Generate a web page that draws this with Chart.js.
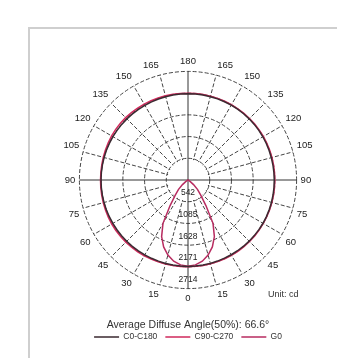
<!DOCTYPE html>
<html>
<head>
<meta charset="utf-8">
<script src="https://cdn.jsdelivr.net/npm/chart.js@4.4.1/dist/chart.umd.min.js"></script>
<style>
    html, body { margin: 0; padding: 0; background: #fff; }
    #wrap { position: relative; width: 337px; height: 358px; overflow: hidden; }
    .frame { position: absolute; left: 28px; top: 27px; right: -5px; bottom: -5px; border-left: 2px solid #cfcfcf; border-top: 2px solid #cfcfcf; }
    canvas { position: absolute; left: 0; top: 0; }
    .unit { position: absolute; left: 268px; top: 289px; font: 9px "Liberation Sans", sans-serif; color: #333; }
</style>
</head>
<body>
<div id="wrap">
    <div class="frame"></div>
    <canvas id="polar" width="337" height="358"></canvas>
    <span class="unit">Unit: cd</span>
</div>
<script>
// углы гамма для одной полуплоскости, 0 внизу, 180 вверху
const gamma = [0, 5, 10, 15, 20, 25, 30, 35, 40, 45, 50, 55, 60, 65, 70, 75, 80, 85, 90,
    95, 100, 105, 110, 115, 120, 125, 130, 135, 140, 145, 150, 155, 160, 165, 170, 175, 180]

// сила света, кд (по картинке)
const c0 = [2160, 2160, 2158, 2157, 2156, 2156, 2157, 2158, 2160, 2161, 2162, 2163, 2163, 2162, 2161, 2160, 2158, 2157,
    2156, 2155, 2155, 2156, 2157, 2158, 2160, 2161, 2162, 2162, 2161, 2160, 2159, 2158, 2157, 2156, 2155, 2155, 2155]
const c180 = [2160, 2160, 2159, 2158, 2158, 2159, 2160, 2162, 2164, 2165, 2166, 2167, 2168, 2170, 2172, 2173, 2174, 2174,
    2174, 2173, 2172, 2171, 2170, 2168, 2166, 2164, 2162, 2160, 2158, 2157, 2156, 2155, 2155, 2155, 2155, 2155, 2155]
const c90 = [2165, 2166, 2167, 2168, 2170, 2172, 2173, 2174, 2175, 2175, 2175, 2174, 2173, 2172, 2171, 2170, 2170, 2170,
    2170, 2170, 2171, 2172, 2173, 2174, 2175, 2175, 2175, 2174, 2173, 2172, 2171, 2170, 2170, 2170, 2170, 2170, 2170]
const c270 = [2165, 2167, 2170, 2174, 2178, 2182, 2186, 2190, 2193, 2196, 2198, 2200, 2200, 2198, 2195, 2192, 2190, 2188,
    2186, 2186, 2188, 2192, 2196, 2200, 2204, 2206, 2206, 2204, 2200, 2195, 2190, 2186, 2182, 2178, 2175, 2172, 2170]
const g0 = [2156, 2130, 2060, 1940, 1780, 1560, 1250, 780, 500, 340, 180, 70, 0, 0, 0, 0, 0, 0,
    0, 0, 0, 0, 0, 0, 0, 0, 0, 0, 0, 0, 0, 0, 0, 0, 0, 0, 0]

const ringValues = [542.8, 1085.6, 1628.4, 2171.2, 2714]
const ringLabels = ['542', '1085', '1628', '2171', '2714']
const seriesNames = ['C0-C180', 'C90-C270', 'G0']
const seriesColors = ['#3b2a31', '#d02a5c', '#b82c60']

// полный оборот: слева гамма 0..180, справа обратно 175..5
const fullTurn = (left, right) => left.concat(right.slice(1, 36).reverse())
const angleLabels = fullTurn(gamma, gamma).map(a => a % 15 === 0 ? String(a) : '')

// центр без спиц, только оси
const innerHub = {
    id: 'innerHub',
    beforeDatasetsDraw(chart) {
        const s = chart.scales.r
        const c = chart.ctx
        const r = s.getDistanceFromCenterForValue(ringValues[0]) - 1
        c.save()
        c.fillStyle = '#fff'
        c.beginPath()
        c.arc(s.xCenter, s.yCenter, r, 0, Math.PI * 2)
        c.fill()
        c.strokeStyle = '#333'
        c.lineWidth = 1
        c.beginPath()
        c.moveTo(s.xCenter - r, s.yCenter)
        c.lineTo(s.xCenter + r, s.yCenter)
        c.moveTo(s.xCenter, s.yCenter - r)
        c.lineTo(s.xCenter, s.yCenter + r)
        c.stroke()
        c.restore()
    }
}

// подписи колец вдоль нижней оси
const ringText = {
    id: 'ringText',
    afterDatasetsDraw(chart) {
        const s = chart.scales.r
        const c = chart.ctx
        c.save()
        c.font = '8.5px "Liberation Sans", sans-serif'
        c.fillStyle = '#222'
        c.textAlign = 'center'
        c.textBaseline = 'middle'
        ringValues.forEach((v, i) => {
            c.fillText(ringLabels[i], s.xCenter, s.yCenter + s.getDistanceFromCenterForValue(v) - 9)
        })
        c.restore()
    }
}

const line = (i, data) => ({
    label: seriesNames[i],
    data: data,
    borderColor: seriesColors[i],
    backgroundColor: seriesColors[i],
    borderWidth: 1.5,
    pointRadius: 0,
    fill: false,
    tension: 0
})

new Chart(document.getElementById('polar'), {
    type: 'radar',
    data: {
        labels: angleLabels,
        datasets: [
            line(0, fullTurn(c180, c0)),
            line(1, fullTurn(c270, c90)),
            line(2, fullTurn(g0, g0))
        ]
    },
    options: {
        responsive: false,
        animation: false,
        layout: { padding: { left: 63, right: 24, top: 56, bottom: 6.75 } },
        scales: {
            r: {
                min: 0,
                max: 2714,
                startAngle: 180,
                afterBuildTicks: scale => { scale.ticks = [0, ...ringValues].map(v => ({ value: v })) },
                ticks: { display: false },
                grid: { circular: true, color: '#444', lineWidth: 1 },
                border: { dash: [4, 2] },
                angleLines: {
                    color: ctx => ctx.index % 18 === 0 ? '#333' : '#444',
                    lineWidth: ctx => ctx.index % 3 === 0 ? 1 : 0,
                    borderDash: ctx => ctx.index % 18 === 0 ? [] : [4, 2]
                },
                pointLabels: {
                    padding: 4,
                    color: '#222',
                    font: { family: '"Liberation Sans Narrow", "Liberation Sans", sans-serif', size: 9.5 }
                }
            }
        },
        plugins: {
            title: {
                display: true,
                position: 'bottom',
                weight: 500,
                text: 'Average Diffuse Angle(50%): 66.6°',
                color: '#333',
                font: { family: '"Liberation Sans", sans-serif', size: 10.5, weight: 'normal' },
                padding: { top: 14, bottom: -6.6 }
            },
            legend: {
                position: 'bottom',
                labels: {
                    boxWidth: 25,
                    boxHeight: 0,
                    padding: 8,
                    color: '#333',
                    font: { family: '"Liberation Sans", sans-serif', size: 8.5 }
                }
            },
            tooltip: { enabled: false }
        }
    },
    plugins: [innerHub, ringText]
})
</script>
</body>
</html>
